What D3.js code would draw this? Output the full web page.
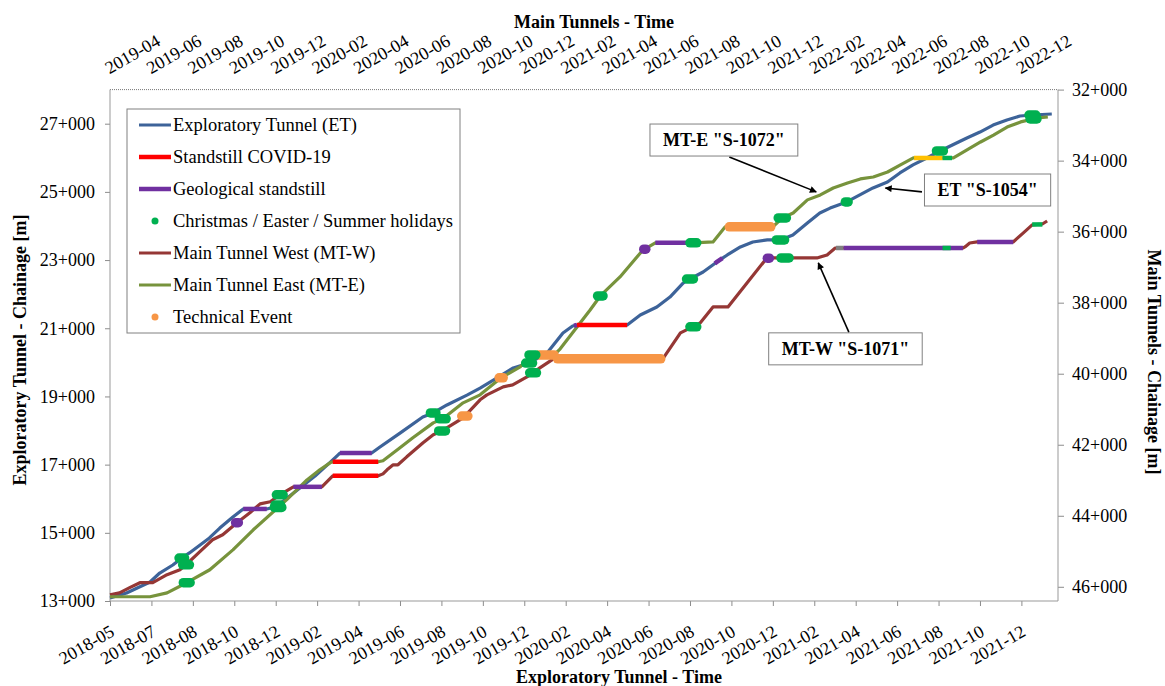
<!DOCTYPE html>
<html><head><meta charset="utf-8">
<script src="https://cdn.jsdelivr.net/npm/d3@7"></script>
<style>
body{margin:0;background:#fff}
svg, text{font-family:"Liberation Serif","Times New Roman","DejaVu Serif",serif}
text{fill:#000}
</style>
</head><body>
<svg id="chart" width="1165" height="686" font-family="Liberation Serif"></svg>
<script>
// ---------- tick labels ----------
const etTickLabels = ["2018-05","2018-07","2018-08","2018-10","2018-12","2019-02","2019-04","2019-06","2019-08","2019-10","2019-12","2020-02","2020-04","2020-06","2020-08","2020-10","2020-12","2021-02","2021-04","2021-06","2021-08","2021-10","2021-12"];
const mtTickLabels = ["2019-04","2019-06","2019-08","2019-10","2019-12","2020-02","2020-04","2020-06","2020-08","2020-10","2020-12","2021-02","2021-04","2021-06","2021-08","2021-10","2021-12","2022-02","2022-04","2022-06","2022-08","2022-10","2022-12"];
const etChainTicks = [13000,15000,17000,19000,21000,23000,25000,27000];
const mtChainTicks = [32000,34000,36000,38000,40000,42000,44000,46000];

// ---------- progress series [date, chainage m] ----------
const etProgress = [["2018-05-02",13090],["2018-05-26",13235],["2018-06-29",13557],["2018-07-13",13820],["2018-08-01",14056],["2018-08-14",14260],["2018-08-25",14410],["2018-09-23",14850],["2018-10-08",15140],["2018-10-27",15465],["2018-11-11",15700],["2018-12-15",15700],["2018-12-27",15760],["2019-01-10",15960],["2019-02-01",16315],["2019-02-23",16665],["2019-03-16",17050],["2019-03-28",17280],["2019-03-31",17340],["2019-05-16",17340],["2019-05-28",17515],["2019-06-26",17925],["2019-07-29",18395],["2019-08-13",18515],["2019-09-02",18750],["2019-10-01",19040],["2019-10-20",19245],["2019-11-13",19540],["2019-12-07",19835],["2019-12-30",19980],["2020-01-25",20275],["2020-02-17",20860],["2020-03-02",21065],["2020-03-08",21095],["2020-05-20",21095],["2020-06-08",21390],["2020-07-02",21625],["2020-07-21",21915],["2020-08-09",22325],["2020-08-19",22445],["2020-09-07",22650],["2020-09-27",22945],["2020-10-12",23150],["2020-10-31",23385],["2020-11-18",23530],["2020-12-09",23590],["2020-12-28",23590],["2021-01-15",23735],["2021-02-05",24085],["2021-02-23",24380],["2021-03-10",24525],["2021-04-03",24705],["2021-04-22",24910],["2021-05-11",25115],["2021-06-01",25290],["2021-06-19",25555],["2021-07-08",25790],["2021-07-28",25995],["2021-08-16",26200],["2021-09-03",26375],["2021-09-24",26580],["2021-10-13",26755],["2021-11-01",26960],["2021-11-21",27110],["2021-12-10",27225],["2021-12-28",27255],["2022-01-25",27285]];

const mtwProgress = [["2019-04-05",46225],["2019-04-19",46170],["2019-05-04",46025],["2019-05-19",45885],["2019-06-07",45885],["2019-06-28",45660],["2019-07-17",45520],["2019-07-26",45380],["2019-08-15",45015],["2019-09-03",44675],["2019-09-18",44535],["2019-10-09",44195],["2019-10-28",43915],["2019-11-12",43665],["2019-11-27",43605],["2019-12-11",43410],["2019-12-31",43185],["2020-02-11",43185],["2020-02-27",42875],["2020-05-04",42875],["2020-05-11",42820],["2020-05-17",42705],["2020-05-26",42565],["2020-06-02",42565],["2020-06-15",42340],["2020-07-09",41945],["2020-07-24",41720],["2020-08-06",41610],["2020-08-13",41525],["2020-09-06",41245],["2020-10-01",40735],["2020-10-11",40595],["2020-10-26",40455],["2020-11-04",40370],["2020-11-18",40315],["2020-12-09",40090],["2020-12-18",39975],["2020-12-28",39835],["2021-01-17",39580],["2021-06-27",39580],["2021-07-11",39190],["2021-07-23",38850],["2021-08-01",38765],["2021-08-11",38680],["2021-08-21",38570],["2021-09-09",38120],["2021-10-01",38120],["2021-10-29",37445],["2021-11-25",36795],["2021-11-30",36740],["2021-12-24",36740],["2022-02-09",36740],["2022-02-24",36655],["2022-03-08",36460],["2022-03-20",36460],["2022-09-12",36460],["2022-09-15",36430],["2022-09-22",36320],["2022-10-03",36290],["2022-11-25",36290],["2022-12-10",36035],["2022-12-23",35810],["2023-01-07",35785],["2023-01-14",35700]];

const mteProgress = [["2019-04-05",46280],["2019-06-03",46280],["2019-06-28",46170],["2019-07-27",45885],["2019-08-30",45520],["2019-10-03",44960],["2019-11-02",44395],["2019-12-08",43775],["2019-12-21",43550],["2020-01-20",42990],["2020-02-08",42705],["2020-02-23",42510],["2020-02-27",42480],["2020-05-04",42480],["2020-05-11",42450],["2020-06-05",42085],["2020-06-24",41805],["2020-07-24",41385],["2020-08-07",41270],["2020-09-06",40820],["2020-10-01",40595],["2020-11-01",40115],["2020-11-29",39805],["2020-12-17",39470],["2021-01-18",39470],["2021-01-27",39300],["2021-02-21",38680],["2021-03-12",38205],["2021-03-27",37810],["2021-04-25",37275],["2021-05-25",36600],["2021-06-01",36485],["2021-06-16",36315],["2021-08-02",36315],["2021-08-11",36315],["2021-09-09",36290],["2021-09-27",35865],["2021-12-06",35865],["2021-12-20",35615],["2022-01-05",35475],["2022-01-26",35105],["2022-02-14",34965],["2022-03-05",34770],["2022-03-26",34630],["2022-04-14",34515],["2022-05-03",34460],["2022-05-24",34320],["2022-06-12",34120],["2022-07-01",33925],["2022-08-29",33925],["2022-09-18",33700],["2022-10-08",33475],["2022-10-27",33280],["2022-11-16",33055],["2022-12-06",32910],["2022-12-31",32800],["2023-01-15",32770]];

// ---------- events [tunnel, start, end] ----------
const covidStandstill = [["ET","2020-03-08","2020-05-20"],["MTW","2020-02-27","2020-05-04"],["MTE","2020-02-27","2020-05-04"]];
const geologicalStandstill = [["ET","2018-11-11","2018-12-15"],["ET","2019-03-31","2019-05-16"],["ET","2020-03-04","2020-03-08"],["ET","2020-09-24","2020-10-05"],["MTW","2019-12-31","2020-02-11"],["MTW","2022-03-20","2022-09-12"],["MTW","2022-10-03","2022-11-25"],["MTE","2021-06-16","2021-08-02"]];
const geologicalPoints = [["MTW","2019-10-07","2019-10-11"],["MTW","2021-11-28","2021-12-01"],["MTE","2021-05-30","2021-06-02"]];
const holidays = [["ET","2018-08-10","2018-08-18"],["ET","2018-12-27","2019-01-04"],["ET","2019-08-09","2019-08-17"],["ET","2019-12-25","2020-01-04"],["ET","2020-08-14","2020-08-24"],["ET","2020-12-22","2021-01-03"],["ET","2021-04-01","2021-04-05"],["ET","2021-08-11","2021-08-21"],["ET","2021-12-23","2022-01-02"],
  ["MTW","2019-07-21","2019-07-31"],["MTW","2019-12-06","2019-12-16"],["MTW","2020-08-01","2020-08-11"],["MTW","2020-12-13","2020-12-23"],["MTW","2021-08-06","2021-08-16"],["MTW","2021-12-18","2021-12-30"],
  ["MTE","2019-07-22","2019-08-01"],["MTE","2019-12-03","2019-12-14"],["MTE","2020-08-02","2020-08-12"],["MTE","2020-12-12","2020-12-22"],["MTE","2021-03-23","2021-03-31"],["MTE","2021-08-06","2021-08-16"],["MTE","2021-12-14","2021-12-26"],["MTE","2022-12-20","2022-12-30"]];
const holidayStretches = [["MTW","2022-08-13","2022-08-25"],["MTW","2022-12-23","2023-01-07"],["MTE","2022-08-13","2022-08-27"]];
const technicalPoints = [["MTW","2020-09-04","2020-09-13"],["MTE","2020-10-29","2020-11-04"]];
const technicalEvents = [["MTE","2020-12-27","2021-01-18"],["MTW","2021-01-23","2021-06-24"],["MTE","2021-10-03","2021-12-03"]];
const otherStops = [["MTE","2022-07-02","2022-08-13","#FFC000"],["MTW","2022-03-09","2022-03-20","#808080"]];

// annotations: box centre and arrow [date,chainage] on the tunnel's own axes
const annotations = [
  {label:'MT-E "S-1072"', axes:"MT", box:["2021-09-25",33420], from:["2021-10-03",33900], to:["2022-02-08",34880]},
  {label:'ET "S-1054"', axes:"ET", box:["2021-10-24",25055], from:["2021-07-21",25000], to:["2021-05-29",25115]},
  {label:'MT-W "S-1071"', axes:"MT", box:["2022-03-23",39300], from:["2022-03-28",38830], to:["2022-02-11",36880]}
];

const legendItems = [
  {label:"Exploratory Tunnel (ET)", kind:"line", color:"#3D6399", w:3},
  {label:"Standstill COVID-19", kind:"line", color:"#FF0000", w:4.5},
  {label:"Geological standstill", kind:"line", color:"#7030A0", w:4.5},
  {label:"Christmas / Easter / Summer holidays", kind:"dot", color:"#00B050"},
  {label:"Main Tunnel West (MT-W)", kind:"line", color:"#953735", w:3},
  {label:"Main Tunnel East (MT-E)", kind:"line", color:"#77933C", w:3},
  {label:"Technical Event", kind:"dot", color:"#F79646"}
];

// ---------- setup ----------
const FONT = "Liberation Serif, Times New Roman, serif";
const parse = d3.timeParse("%Y-%m-%d");
const svg = d3.select("#chart");
const L = 110, R = 1058, T = 89.6, B = 601;

const etStart = parse("2018-05-02"), mtStart = parse("2019-04-05");
const xET = d3.scaleTime().domain([etStart, d3.timeDay.offset(etStart, 1373.7)]).range([L, R]);
const xMT = d3.scaleTime().domain([mtStart, d3.timeDay.offset(mtStart, 1396.8)]).range([L, R]);
const yET = d3.scaleLinear().domain([13000, 28000]).range([B, T]);
const yMT = d3.scaleLinear().domain([32000, 46400]).range([T, B]);

const chain = v => Math.floor(v/1000) + "+" + String(Math.round(v % 1000)).padStart(3, "0");

const tunnels = {
  ET: {data: etProgress.map(d => ({t: parse(d[0]), v: d[1]})), x: xET, y: yET, color: "#3D6399"},
  MTW:{data: mtwProgress.map(d => ({t: parse(d[0]), v: d[1]})), x: xMT, y: yMT, color: "#953735"},
  MTE:{data: mteProgress.map(d => ({t: parse(d[0]), v: d[1]})), x: xMT, y: yMT, color: "#77933C"}
};

function valueAt(data, t) {
  if (t <= data[0].t) return data[0].v;
  for (let i = 0; i < data.length - 1; i++) {
    const a = data[i], b = data[i+1];
    if (t >= a.t && t <= b.t) {
      const f = (t - a.t) / (b.t - a.t || 1);
      return a.v + f * (b.v - a.v);
    }
  }
  return data[data.length-1].v;
}
function piece(key, s, e) {
  const tn = tunnels[key], t0 = parse(s), t1 = parse(e);
  const pts = [{t: t0, v: valueAt(tn.data, t0)}];
  tn.data.forEach(p => { if (p.t > t0 && p.t < t1) pts.push(p); });
  pts.push({t: t1, v: valueAt(tn.data, t1)});
  return d3.line().x(p => tn.x(p.t)).y(p => tn.y(p.v))(pts);
}
// a stop marker: flat stretch at the chainage reached at mid-period
function stopMark(key, s, e) {
  const tn = tunnels[key], t0 = parse(s), t1 = parse(e);
  const v = valueAt(tn.data, new Date((+t0 + +t1) / 2));
  return d3.line().x(p => tn.x(p.t)).y(p => tn.y(p.v))([{t: t0, v}, {t: t1, v}]);
}

// ---------- axes ----------
const etTickDates = etTickLabels.map((_, i) => d3.timeDay.offset(etStart, i * 60));
const mtTickDates = mtTickLabels.map((_, i) => d3.timeDay.offset(mtStart, i * 61));

function styleTicks(g) {
  g.attr("font-family", FONT).attr("font-size", 18);
  g.select(".domain").remove();
  g.selectAll(".tick line").attr("stroke", "#8c8c8c");
  g.selectAll(".tick text").attr("font-family", FONT).attr("font-size", 18).attr("fill", "#000");
}

const gB = svg.append("g").attr("transform", `translate(0,${B})`)
  .call(d3.axisBottom(xET).tickValues(etTickDates).tickFormat((d, i) => etTickLabels[i]).tickSize(5).tickSizeOuter(0));
styleTicks(gB);
gB.selectAll(".tick text").attr("text-anchor", "end").attr("y", 0).attr("dy", 0)
  .attr("transform", "translate(5,34) rotate(-30)");

const gT = svg.append("g").attr("transform", `translate(0,${T})`)
  .call(d3.axisTop(xMT).tickValues(mtTickDates).tickFormat((d, i) => mtTickLabels[i]).tickSize(0).tickSizeOuter(0));
styleTicks(gT);
gT.selectAll(".tick text").attr("text-anchor", "start").attr("y", 0).attr("dy", 0)
  .attr("transform", "translate(-1,-15) rotate(-30)");

const gL = svg.append("g").attr("transform", `translate(${L},0)`)
  .call(d3.axisLeft(yET).tickValues(etChainTicks).tickFormat(chain).tickSize(5).tickPadding(10).tickSizeOuter(0));
styleTicks(gL);

const gR = svg.append("g").attr("transform", `translate(${R},0)`)
  .call(d3.axisRight(yMT).tickValues(mtChainTicks).tickFormat(chain).tickSize(6).tickPadding(8).tickSizeOuter(0));
styleTicks(gR);

// frame
svg.append("line").attr("x1", L).attr("x2", R).attr("y1", T).attr("y2", T).attr("stroke", "#777").attr("stroke-dasharray", "1,1");
svg.append("line").attr("x1", L).attr("x2", L).attr("y1", T).attr("y2", B).attr("stroke", "#999");
svg.append("line").attr("x1", L).attr("x2", R).attr("y1", B).attr("y2", B).attr("stroke", "#999");
svg.append("line").attr("x1", R).attr("x2", R).attr("y1", T).attr("y2", B).attr("stroke", "#999");

// axis titles
const title = (sel) => sel.attr("font-family", FONT).attr("font-size", 18).attr("font-weight", "bold").attr("text-anchor", "middle");
svg.append("text").attr("x", 594).attr("y", 28).call(title).text("Main Tunnels - Time");
svg.append("text").attr("x", 619).attr("y", 683).call(title).text("Exploratory Tunnel - Time");
svg.append("text").attr("transform", "translate(26,350) rotate(-90)").call(title).text("Exploratory Tunnel - Chainage [m]");
svg.append("text").attr("transform", "translate(1148,362) rotate(90)").call(title).text("Main Tunnels - Chainage [m]");

// ---------- series ----------
const gS = svg.append("g");
["ET", "MTW", "MTE"].forEach(k => {
  const tn = tunnels[k];
  gS.append("path").attr("d", d3.line().x(p => tn.x(p.t)).y(p => tn.y(p.v))(tn.data))
    .attr("fill", "none").attr("stroke", tn.color).attr("stroke-width", 3.2).attr("stroke-linejoin", "round");
});

function drawEvents(list, color, width, cap, flat) {
  list.forEach(e => {
    gS.append("path").attr("d", flat ? stopMark(e[0], e[1], e[2]) : piece(e[0], e[1], e[2])).attr("fill", "none")
      .attr("stroke", e[3] || color).attr("stroke-width", width).attr("stroke-linecap", cap).attr("stroke-linejoin", "round");
  });
}
drawEvents(covidStandstill, "#FF0000", 4.5, "butt", false);
drawEvents(geologicalStandstill, "#7030A0", 4.5, "butt", false);
drawEvents(otherStops, "#FFC000", 4.5, "butt", false);
drawEvents(holidayStretches, "#00B050", 4.5, "butt", true);
drawEvents(geologicalPoints, "#7030A0", 9.5, "round", true);
drawEvents(technicalEvents, "#F79646", 9.5, "round", true);
drawEvents(technicalPoints, "#F79646", 9.5, "round", true);
drawEvents(holidays, "#00B050", 9.5, "round", true);

// ---------- legend ----------
const lg = svg.append("g");
lg.append("rect").attr("x", 127).attr("y", 109).attr("width", 333).attr("height", 224).attr("fill", "#fff").attr("stroke", "#808080").attr("stroke-width", 1);
legendItems.forEach((it, i) => {
  const cy = 125 + i * 32;
  if (it.kind === "line") {
    lg.append("line").attr("x1", 139).attr("x2", 171).attr("y1", cy).attr("y2", cy).attr("stroke", it.color).attr("stroke-width", it.w);
  } else {
    lg.append("circle").attr("cx", 155).attr("cy", cy).attr("r", 3.5).attr("fill", it.color);
  }
  lg.append("text").attr("x", 173).attr("y", cy + 6).attr("font-family", FONT).attr("font-size", 18.5).text(it.label);
});

// ---------- annotations ----------
const defs = svg.append("defs");
defs.append("marker").attr("id", "arr").attr("viewBox", "0 0 10 10").attr("refX", 9).attr("refY", 5)
  .attr("markerWidth", 9).attr("markerHeight", 7).attr("orient", "auto").attr("markerUnits", "userSpaceOnUse")
  .append("path").attr("d", "M0,0 L10,5 L0,10 z").attr("fill", "#000");
const ga = svg.append("g");
annotations.forEach(a => {
  const sx = a.axes === "ET" ? xET : xMT, sy = a.axes === "ET" ? yET : yMT;
  const bx = sx(parse(a.box[0])), by = sy(a.box[1]);
  ga.append("line").attr("x1", sx(parse(a.from[0]))).attr("y1", sy(a.from[1]))
    .attr("x2", sx(parse(a.to[0]))).attr("y2", sy(a.to[1]))
    .attr("stroke", "#000").attr("stroke-width", 1.6).attr("marker-end", "url(#arr)");
  const t = ga.append("text").attr("x", bx).attr("y", by + 6).attr("text-anchor", "middle")
    .attr("font-family", FONT).attr("font-size", 18).attr("font-weight", "bold").text(a.label);
  const w = t.node().getComputedTextLength() + 26;
  ga.insert("rect", "text").attr("x", bx - w/2).attr("y", by - 16).attr("width", w).attr("height", 32)
    .attr("fill", "#fff").attr("stroke", "#808080");
});
</script>
</body></html>
